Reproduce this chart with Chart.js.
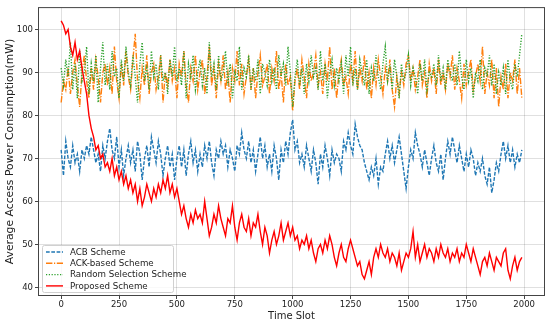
<!DOCTYPE html>
<html>
<head>
<meta charset="utf-8">
<script src="https://cdn.jsdelivr.net/npm/chart.js@4.4.1/dist/chart.umd.min.js"></script>
<style>
  html, body { margin: 0; padding: 0; background: #fff; }
  #chart { display: block; }
</style>
</head>
<body>
<canvas id="chart" width="550" height="324"></canvas>
<script>
// one sample every 10 time slots, 0 .. 1990
const SLOT_STEP = 10;

const acbScheme = [
  72, 66, 74, 70, 68, 73, 69, 71, 67, 72,
  70, 73, 71, 75, 72, 69, 71, 67, 73, 70,
  74, 77, 72, 70, 75, 68, 72, 66, 70, 73,
  69, 72, 67, 74, 71, 65, 70, 73, 68, 75,
  72, 69, 74, 71, 66, 70, 73, 68, 71, 65,
  70, 73, 68, 72, 66, 71, 74, 69, 72, 67,
  71, 68, 73, 70, 74, 69, 66, 72, 70, 74,
  71, 73, 68, 72, 70, 67, 73, 71, 76, 72,
  70, 74, 69, 72, 67, 71, 75, 70, 73, 68,
  71, 67, 73, 70, 65, 72, 69, 74, 71, 76,
  79, 72, 74, 69, 71, 68, 73, 70, 67, 72,
  69, 64, 71, 68, 73, 70, 66, 72, 69, 71,
  70, 67, 74, 72, 76, 73, 71, 78, 75, 73,
  72, 69, 67, 65, 68, 66, 70, 64, 68, 67,
  71, 74, 70, 73, 69, 72, 75, 71, 67, 63,
  68, 72, 70, 76, 73, 71, 68, 72, 69, 66,
  70, 73, 69, 67, 71, 65, 70, 74, 71, 75,
  72, 69, 73, 70, 67, 71, 68, 72, 70, 66,
  69, 67, 70, 66, 64, 68, 62, 65, 69, 67,
  71, 74, 70, 73, 69, 72, 68, 71, 69, 72
];

const ackScheme = [
  83, 88, 86, 91, 85, 90, 93, 87, 82, 90,
  94, 88, 84, 91, 86, 93, 89, 83, 90, 92,
  87, 91, 85, 96, 88, 84, 92, 87, 95, 89,
  86, 93, 99, 88, 84, 91, 87, 94, 85, 90,
  92, 86, 89, 94, 83, 90, 87, 93, 88, 91,
  84, 92, 89, 95, 87, 83, 91, 88, 94, 86,
  90, 93, 85, 89, 96, 87, 91, 84, 92, 88,
  94, 86, 90, 83, 91, 88, 95, 87, 92, 85,
  89, 93, 86, 91, 84, 90, 94, 87, 89, 92,
  85, 91, 88, 95, 86, 90, 83, 92, 87, 89,
  81, 88, 91, 86, 93, 89, 84, 92, 88, 90,
  94, 87, 90, 85, 92, 88, 96, 86, 91, 84,
  90, 93, 87, 89, 85, 92, 88, 95, 86, 91,
  88, 94, 86, 90, 84, 91, 87, 93, 89, 85,
  91, 88, 93, 86, 82, 89, 85, 90, 87, 92,
  94, 88, 91, 86, 89, 93, 87, 90, 84, 92,
  88, 91, 85, 93, 87, 90, 86, 92, 89, 94,
  86, 91, 88, 84, 92, 87, 90, 93, 86, 89,
  92, 88, 96, 85, 90, 87, 93, 84, 91, 82,
  89, 86, 92, 84, 90, 88, 93, 85, 91, 84
];

const randomScheme = [
  91, 87, 93, 89, 97, 86, 92, 84, 95, 88,
  90, 96, 85, 92, 88, 94, 83, 91, 97, 87,
  92, 86, 95, 89, 91, 84, 93, 88, 96, 90,
  87, 94, 89, 83, 92, 97, 88, 91, 86, 95,
  89, 92, 86, 94, 88, 90, 85, 93, 89, 96,
  88, 91, 87, 95, 84, 92, 89, 94, 86, 90,
  93, 87, 91, 85, 97, 89, 92, 86, 94, 88,
  90, 95, 87, 92, 84, 90, 88, 96, 86, 91,
  89, 94, 86, 91, 88, 93, 85, 92, 90, 87,
  93, 88, 91, 86, 94, 89, 92, 87, 96, 90,
  82, 89, 93, 87, 91, 85, 92, 88, 94, 89,
  91, 86, 95, 88, 92, 84, 90, 93, 87, 91,
  88, 92, 85, 94, 89, 96, 87, 91, 86, 93,
  90, 87, 93, 85, 91, 88, 94, 89, 86, 92,
  96, 88, 91, 86, 93, 89, 84, 92, 88, 90,
  94, 87, 91, 89, 85, 92, 88, 93, 86, 90,
  89, 92, 87, 94, 88, 91, 86, 93, 90, 88,
  92, 87, 95, 89, 86, 93, 88, 91, 84, 90,
  88, 93, 86, 91, 89, 94, 87, 92, 85, 90,
  87, 91, 85, 93, 88, 86, 92, 89, 94, 99
];

const proposedScheme = [
  102, 101, 99, 100, 96, 94, 97, 93, 95, 91,
  88, 85, 80, 77, 75, 72, 73, 70, 71, 68,
  69, 67, 70, 66, 68, 65, 67, 64, 66, 63,
  65, 62, 64, 60, 63, 59, 61, 64, 62, 60,
  63, 61, 64, 62, 65, 63, 66, 62, 64, 61,
  63, 60, 57, 59, 56, 54, 57, 55, 58, 56,
  57, 55, 60, 56, 52, 54, 57, 55, 59, 56,
  54, 52, 56, 55, 59, 54, 51, 55, 57, 54,
  53, 56, 52, 55, 54, 57, 53, 50, 54, 52,
  48, 51, 53, 50, 52, 55, 51, 53, 55, 52,
  54, 51, 52, 49, 51, 50, 52, 49, 51, 48,
  46, 49, 50, 48, 51, 49, 52, 50, 47, 45,
  48, 50, 47, 46, 49, 51, 49, 47, 45, 46,
  43, 42, 44, 46, 43, 47, 49, 47, 50, 48,
  47, 49, 46, 48, 47, 45, 48, 44, 46, 48,
  47, 49, 53, 47, 50, 46, 48, 50, 47, 49,
  48, 46, 49, 47, 50, 48, 47, 49, 46, 48,
  47, 49, 46, 48, 47, 50, 48, 46, 49, 47,
  45, 43, 46, 47, 45, 48, 46, 44, 47, 46,
  45, 48, 49, 44, 42, 45, 47, 44, 46, 47
];

const xTicks = [0, 250, 500, 750, 1000, 1250, 1500, 1750, 2000];
const yTicks = [40, 50, 60, 70, 80, 90, 100];

const toPoints = arr => arr.map((v, i) => ({ x: i * SLOT_STEP, y: v }));

const FONT = 'DejaVu Sans';

// frame around the plot + legend box in the lower left corner
const framePlugin = {
  id: 'frame',
  afterDatasetsDraw(chart) {
    const { ctx, chartArea: a } = chart;
    ctx.save();

    // legend
    const x0 = a.left + 4, y0 = a.bottom - 51, w = 131, h = 47;
    ctx.fillStyle = 'rgba(255,255,255,0.8)';
    ctx.strokeStyle = '#d0d0d0';
    ctx.lineWidth = 1;
    ctx.beginPath();
    ctx.roundRect(x0 + 0.5, y0 + 0.5, w, h, 2);
    ctx.fill();
    ctx.stroke();

    ctx.font = `8.7px "${FONT}"`;
    ctx.textBaseline = 'middle';
    chart.data.datasets.forEach((ds, i) => {
      const yy = y0 + 7 + i * 11.3;
      ctx.strokeStyle = ds.borderColor;
      ctx.lineWidth = 1.4;
      ctx.setLineDash(ds.borderDash || []);
      ctx.beginPath();
      ctx.moveTo(x0 + 4, yy);
      ctx.lineTo(x0 + 21, yy);
      ctx.stroke();
      ctx.setLineDash([]);
      ctx.fillStyle = '#222';
      ctx.fillText(ds.label, x0 + 28, yy + 0.5);
    });

    ctx.strokeStyle = '#444';
    ctx.lineWidth = 1;
    ctx.strokeRect(a.left + 0.5, a.top + 0.5, a.right - a.left - 1, a.bottom - a.top - 1);
    ctx.restore();
  }
};

new Chart(document.getElementById('chart'), {
  type: 'line',
  data: {
    datasets: [
      {
        label: 'ACB Scheme',
        data: toPoints(acbScheme),
        borderColor: '#1f77b4',
        borderDash: [3.7, 1.6],
        order: 3
      },
      {
        label: 'ACK-based Scheme',
        data: toPoints(ackScheme),
        borderColor: '#ff7f0e',
        borderDash: [6.4, 1.6, 1.2, 1.6],
        order: 2
      },
      {
        label: 'Random Selection Scheme',
        data: toPoints(randomScheme),
        borderColor: '#2ca02c',
        borderDash: [1.2, 1.6],
        order: 1
      },
      {
        label: 'Proposed Scheme',
        data: toPoints(proposedScheme),
        borderColor: '#ff0000',
        order: 0
      }
    ]
  },
  options: {
    responsive: false,
    animation: false,
    layout: { padding: { top: 4, right: 5, left: 0, bottom: 0 } },
    elements: {
      line: { borderWidth: 1.4, tension: 0, fill: false },
      point: { radius: 0 }
    },
    plugins: {
      legend: { display: false },
      tooltip: { enabled: false }
    },
    scales: {
      x: {
        type: 'linear',
        min: -100,
        max: 2090,
        afterBuildTicks: axis => { axis.ticks = xTicks.map(v => ({ value: v })); },
        afterFit: axis => { axis.height = 28; },
        ticks: {
          color: '#222',
          font: { family: FONT, size: 8.5 },
          padding: 1,
          maxRotation: 0,
          callback: v => String(v)
        },
        grid: { color: 'rgba(0,0,0,0.12)', tickLength: 3, tickColor: '#444' },
        border: { display: false },
        title: {
          display: true,
          text: 'Time Slot',
          color: '#222',
          font: { family: FONT, size: 10 },
          padding: { top: 0, bottom: 2 }
        }
      },
      y: {
        min: 38,
        max: 105.2,
        afterBuildTicks: axis => { axis.ticks = yTicks.map(v => ({ value: v })); },
        afterFit: axis => { axis.width = 38; },
        ticks: {
          color: '#222',
          font: { family: FONT, size: 8.5 },
          padding: 2,
          callback: v => String(v)
        },
        grid: { color: 'rgba(0,0,0,0.12)', tickLength: 3, tickColor: '#444' },
        border: { display: false },
        title: {
          display: true,
          text: 'Average Access Power Consumption(mW)',
          color: '#222',
          font: { family: FONT, size: 10.8 },
          padding: { top: 4, bottom: 0 }
        }
      }
    }
  },
  plugins: [framePlugin]
});
</script>
</body>
</html>
